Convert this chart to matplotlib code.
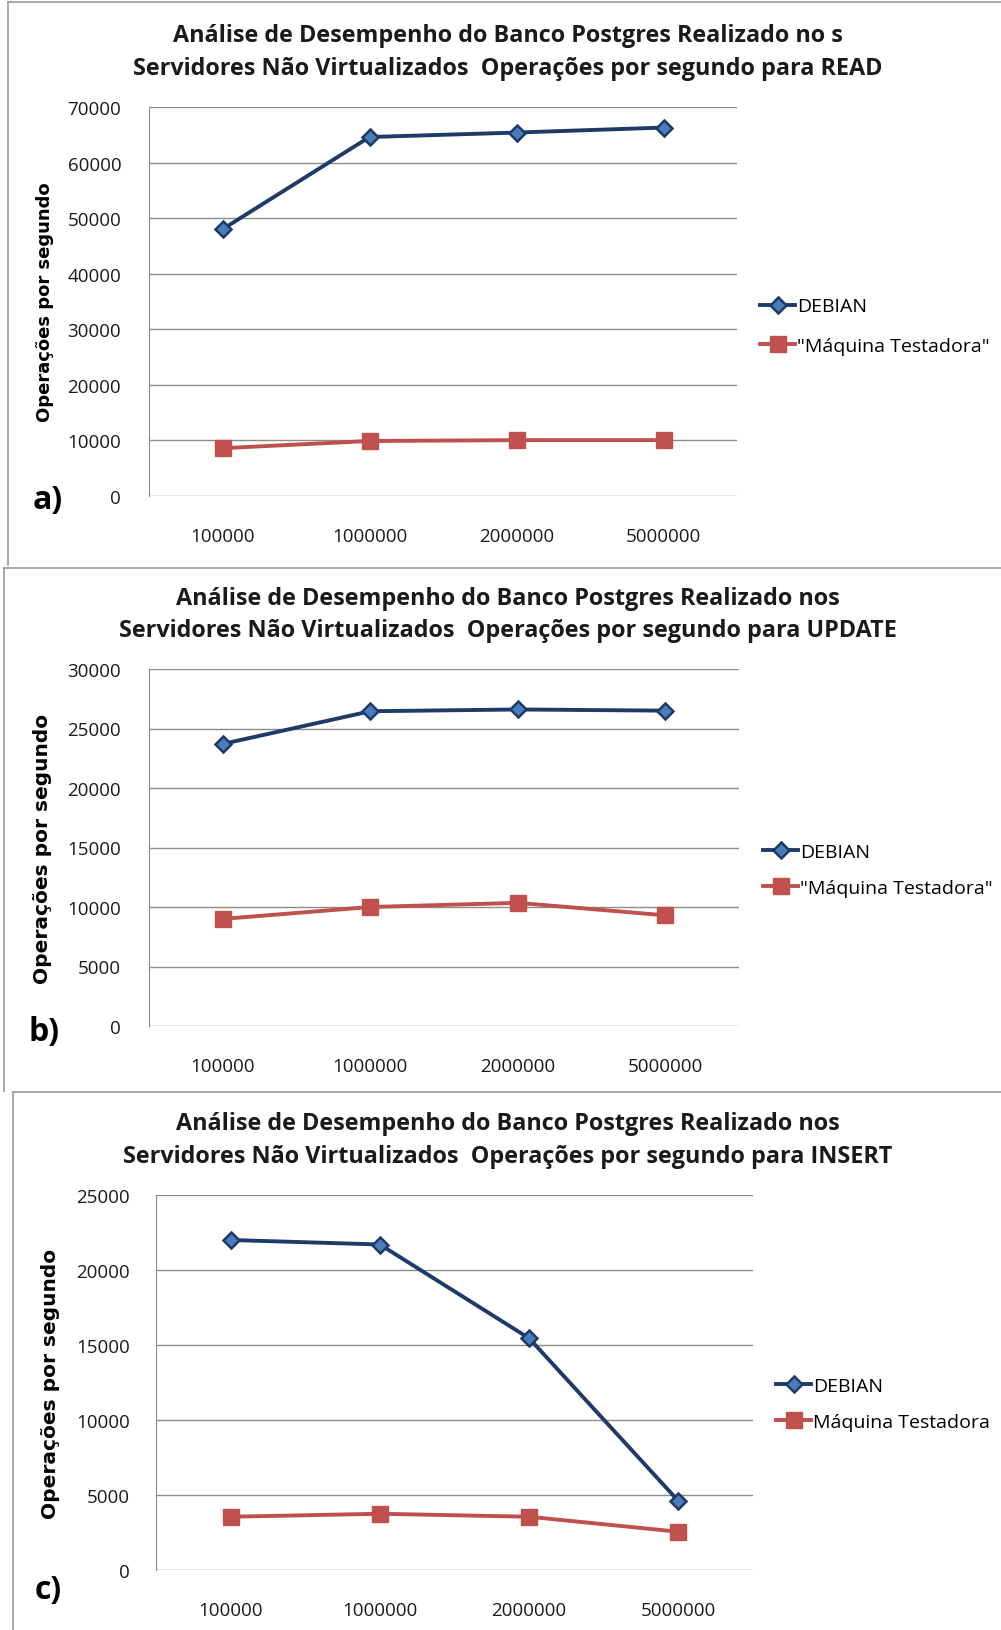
import matplotlib
matplotlib.use('Agg')
import matplotlib.pyplot as plt
from matplotlib.lines import Line2D

plt.rcParams['font.family'] = ['Open Sans', 'DejaVu Sans']

# record counts on the x axis
sizes = ['100000', '1000000', '2000000', '5000000']

# operations per second
read_debian = [48000, 64600, 65400, 66300]
read_maquina = [8600, 9900, 10050, 10050]
update_debian = [23700, 26450, 26600, 26500]
update_maquina = [9000, 10000, 10350, 9300]
insert_debian = [22000, 21700, 15450, 4600]
insert_maquina = [3550, 3750, 3550, 2550]

titles = [
    'Análise de Desempenho do Banco Postgres Realizado no s\nServidores Não Virtualizados  Operações por segundo para READ',
    'Análise de Desempenho do Banco Postgres Realizado nos\nServidores Não Virtualizados  Operações por segundo para UPDATE',
    'Análise de Desempenho do Banco Postgres Realizado nos\nServidores Não Virtualizados  Operações por segundo para INSERT',
]
maquina_labels = ['"Máquina Testadora"', '"Máquina Testadora"', 'Máquina Testadora']
y_max = [70000, 30000, 25000]
y_step = [10000, 5000, 5000]
letters = ['a)', 'b)', 'c)']

W, H = 1001, 1631
fig = plt.figure(figsize=(W / 100, H / 100), dpi=100)

def fx(x):
    return x / W

def fy(y):
    return 1 - y / H

# pixel layout of each panel: axes box, title rows, legend, ylabel, letter, frame
layout = [
    dict(ax=(149, 108, 737, 497), t1=36, t2=69, leg=(760, 327, 1.1), ylab=(45, 13),
         letter=(48, 500), frame=(7.5, 3, 566)),
    dict(ax=(149, 670, 739, 1027), t1=599, t2=631, leg=(763, 871, 0.95), ylab=(43, 14.5),
         letter=(44, 1033), frame=(4, 569, 1092)),
    dict(ax=(156, 1196, 753, 1571), t1=1124, t2=1157, leg=(776, 1405, 0.95), ylab=(51, 14.5),
         letter=(48, 1591), frame=(12.7, 1093, 1631)),
]
series = [(read_debian, read_maquina), (update_debian, update_maquina),
          (insert_debian, insert_maquina)]

navy = '#1f3a68'
red = '#c0504d'
grid_c = '#8c8c8c'
x = list(range(len(sizes)))

for i in range(3):
    L = layout[i]
    l, t, r, b = L['ax']
    ax = fig.add_axes([fx(l), fy(b), (r - l) / W, (b - t) / H])
    deb, maq = series[i]
    ax.plot(x, deb, color=navy, lw=2.8, marker='D', ms=8.5, mfc='#4a7ebb',
            mec=navy, mew=1.8, label='DEBIAN', zorder=3)
    ax.plot(x, maq, color=red, lw=2.8, marker='s', ms=11.5, mfc=red, mec=red,
            label=maquina_labels[i], zorder=3)
    ax.set_xlim(-0.5, 3.5)
    ax.set_ylim(0, y_max[i])
    ax.set_yticks(range(0, y_max[i] + 1, y_step[i]))
    ax.set_xticks(x)
    ax.set_xticklabels(sizes)
    ax.grid(axis='y', color=grid_c, lw=1.0)
    ax.set_axisbelow(True)
    for s in ['top', 'right', 'bottom']:
        ax.spines[s].set_visible(False)
    ax.spines['left'].set_color(grid_c)
    ax.tick_params(axis='both', length=0, labelsize=13.5, colors='#1a1a1a')
    ax.tick_params(axis='y', pad=20 if i < 2 else 19)
    ax.tick_params(axis='x', pad=22)

    ax.legend(loc='center left', bbox_to_anchor=(fx(L['leg'][0]), fy(L['leg'][1])),
              bbox_transform=fig.transFigure, frameon=False, borderpad=0,
              borderaxespad=0, handlelength=1.8, handletextpad=0.1,
              labelspacing=L['leg'][2], fontsize=14)

    fig.text(fx(508), fy(L['t1']), titles[i].split('\n')[0], ha='center', va='center',
             fontsize=16.8, fontweight='bold', color='#1a1a1a')
    fig.text(fx(508), fy(L['t2']), titles[i].split('\n')[1], ha='center', va='center',
             fontsize=16.8, fontweight='bold', color='#1a1a1a')
    fig.text(fx(L['ylab'][0]), fy((t + b) / 2), 'Operações por segundo', rotation=90,
             ha='center', va='center', fontsize=L['ylab'][1], fontweight='bold',
             family='DejaVu Sans')
    fig.text(fx(L['letter'][0]), fy(L['letter'][1]), letters[i], ha='center',
             va='center', fontsize=23, fontweight='bold')

    # grey border of each pasted chart
    x0, y0, y1 = L['frame']
    fig.add_artist(Line2D([fx(x0), fx(x0)], [fy(y0), fy(y1)], transform=fig.transFigure,
                          color='#9a9a9a', lw=1.2))
    fig.add_artist(Line2D([fx(x0), 1], [fy(y0), fy(y0)], transform=fig.transFigure,
                          color='#9a9a9a', lw=1.2))

fig.savefig('out.png', dpi=100)
